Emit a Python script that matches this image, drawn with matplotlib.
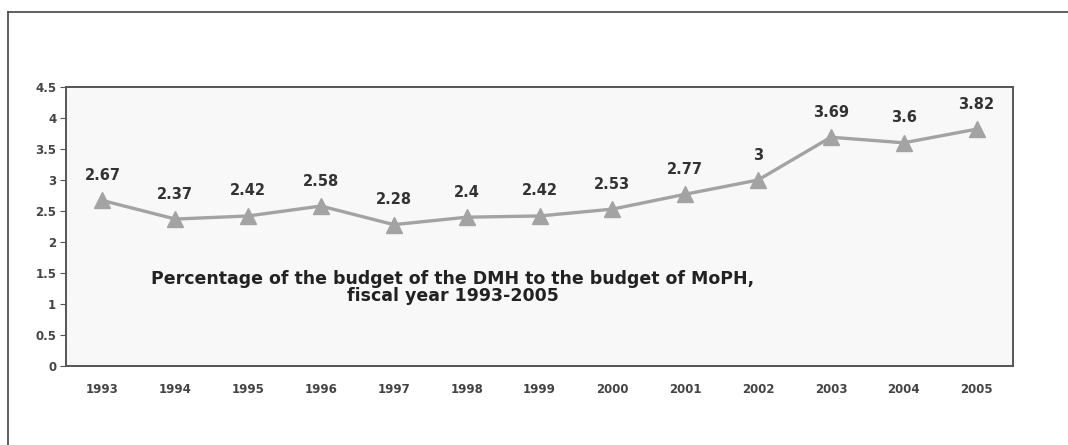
import matplotlib
matplotlib.use("Agg")
import matplotlib.pyplot as plt
from matplotlib.lines import Line2D

years = ["1993", "1994", "1995", "1996", "1997", "1998", "1999",
         "2000", "2001", "2002", "2003", "2004", "2005"]
values = [2.67, 2.37, 2.42, 2.58, 2.28, 2.4, 2.42, 2.53, 2.77, 3, 3.69, 3.6, 3.82]
value_labels = ["2.67", "2.37", "2.42", "2.58", "2.28", "2.4", "2.42",
                "2.53", "2.77", "3", "3.69", "3.6", "3.82"]
y_ticks = [0, 0.5, 1, 1.5, 2, 2.5, 3, 3.5, 4, 4.5]
y_tick_labels = ["0", "0.5", "1", "1.5", "2", "2.5", "3", "3.5", "4", "4.5"]
title_text = "Percentage of the budget of the DMH to the budget of MoPH,\nfiscal year 1993-2005"

plt.rcParams['font.family'] = ['DejaVu Sans']

fig = plt.figure(figsize=(10.68, 4.45), dpi=100)
ax = fig.add_axes([66/1068, 1-366/445, (1013-66)/1068, (366-87)/445])
ax.set_facecolor("#f8f8f8")

x = list(range(len(years)))
ax.plot(x, values, color="#a3a3a3", lw=2.4, marker="^", markersize=11,
        markerfacecolor="#a3a3a3", markeredgecolor="#a3a3a3", zorder=3)
for xi, v, lab in zip(x, values, value_labels):
    ax.annotate(lab, (xi, v), xytext=(0, 18), textcoords="offset points",
                ha="center", va="center", fontsize=10.5, fontweight="bold",
                color="#333333")

ax.set_xlim(-0.5, len(years) - 0.5)
ax.set_ylim(0, 4.5)
ax.set_xticks(x)
ax.set_xticklabels(years, fontsize=8.5, fontweight="bold", color="#444444")
ax.set_yticks(y_ticks)
ax.set_yticklabels(y_tick_labels, fontsize=8.5, fontweight="bold", color="#444444")
ax.tick_params(axis="x", length=0, pad=12)
ax.tick_params(axis="y", length=4, width=0.8, color="#555555", pad=3)
for s in ax.spines.values():
    s.set_color("#555555")
    s.set_linewidth(1.4)

ax.text(4.81, 1.27, title_text, ha="center", va="center", fontsize=12.5,
        fontweight="bold", color="#222222", linespacing=0.95)

# outer frame lines
fig.add_artist(Line2D([8/1068, 8/1068], [0, 1-12/445], transform=fig.transFigure,
                      color="#444444", lw=1.2))
fig.add_artist(Line2D([8/1068, 1], [1-12/445, 1-12/445], transform=fig.transFigure,
                      color="#444444", lw=1.2))

fig.savefig("out.png", dpi=100)
